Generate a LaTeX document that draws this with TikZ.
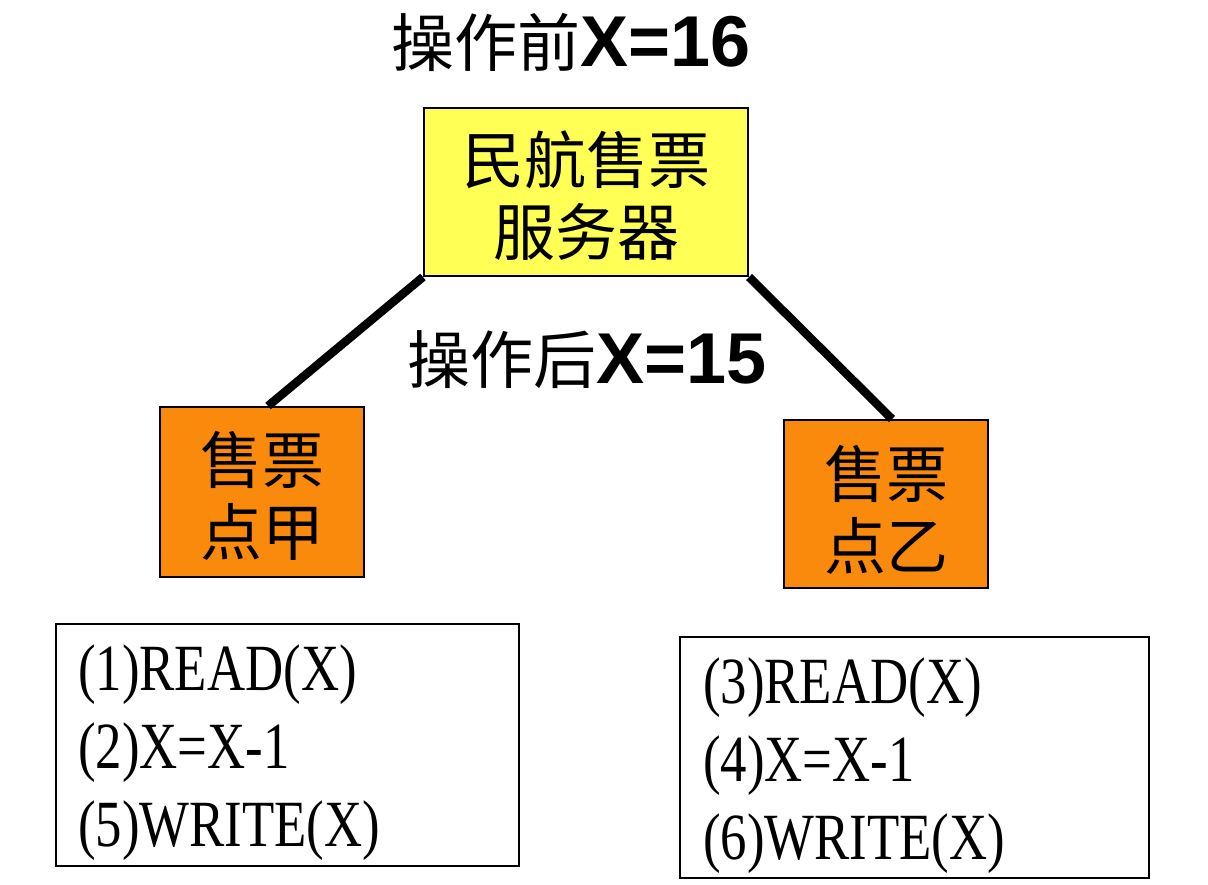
\documentclass[tikz,border=0pt]{standalone}
\usepackage{fontspec}
\setmainfont{Liberation Sans}
\newfontfamily\cjk{Noto Sans CJK SC}
\newfontfamily\codefont[FakeStretch=0.8]{Liberation Serif}
\newfontfamily\latb{Liberation Sans}
\definecolor{srvyellow}{HTML}{FFFF55}
\definecolor{ptorange}{HTML}{F98A0C}
\tikzset{
  cjktext/.style={font=\cjk\fontsize{62}{72}\selectfont, align=center, inner sep=0pt},
  srvbox/.style={draw=black, line width=2pt, fill=srvyellow, inner sep=0pt},
  ptbox/.style={draw=black, line width=2pt, fill=ptorange, inner sep=0pt},
  codebox/.style={draw=black, line width=2pt, fill=white, inner sep=0pt},
  codeline/.style={font=\codefont\fontsize{66}{66}\selectfont, anchor=base west, inner sep=0pt},
  link/.style={line width=8.5pt, black},
  titletext/.style={inner sep=0pt}
}
\begin{document}
\begin{tikzpicture}[x=1pt,y=-1pt]
\useasboundingbox (0,0) rectangle (1208,884);
% title
\node[titletext] (before) at (571,42) {\cjk\fontsize{63}{63}\selectfont 操作前\latb\bfseries\fontsize{72}{72}\selectfont X=16};
% server
\node[srvbox, minimum width=324pt, minimum height=168pt] (srv) at (586,192) {};
\node[cjktext] (srvtxt) at (586,196) {民航售票\\服务器};
% points
\node[ptbox, minimum width=204pt, minimum height=170pt] (ptA) at (262,492) {};
\node[cjktext] (ptAtxt) at (262,496) {售票\\点甲};
\node[ptbox, minimum width=204pt, minimum height=168pt] (ptB) at (886,504) {};
\node[cjktext] (ptBtxt) at (886,510) {售票\\点乙};
% connectors
\draw[link] (srv.south west) -- ([xshift=6pt]ptA.north);
\draw[link] (srv.south east) -- ([xshift=6pt]ptB.north);
% after label
\node[titletext] (after) at (587,360) {\cjk\fontsize{63}{63}\selectfont 操作后\latb\bfseries\fontsize{72}{72}\selectfont X=15};
% code boxes
\node[codebox, minimum width=463pt, minimum height=242pt] (codeA) at (287.5,745) {};
\node[codeline] (a1) at (78,690) {(1)READ(X)};
\node[codeline] (a2) at (78,768) {(2)X=X-1};
\node[codeline] (a3) at (78,846) {(5)WRITE(X)};
\node[codebox, minimum width=469pt, minimum height=241pt] (codeB) at (914.5,757.5) {};
\node[codeline] (b1) at (703,703) {(3)READ(X)};
\node[codeline] (b2) at (703,781) {(4)X=X-1};
\node[codeline] (b3) at (703,859) {(6)WRITE(X)};
\end{tikzpicture}
\end{document}
